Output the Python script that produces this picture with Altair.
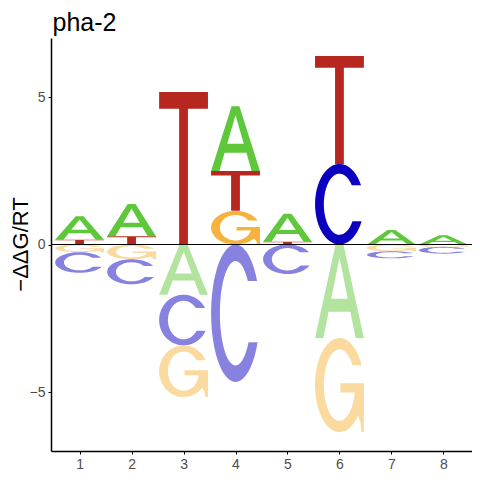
import numpy as np
import pandas as pd
import altair as alt

# ---- data ----
positions = [1, 2, 3, 4, 5, 6, 7, 8]
pos_letters = [["T", "A"], ["T", "A"], ["T"], ["G", "T", "A"], ["T", "A"], ["C", "T"], ["A"], ["A"]]
pos_heights = [[0.16, 0.80], [0.28, 1.09], [5.17], [1.14, 1.35, 2.20], [0.09, 0.95], [2.73, 3.66], [0.49], [0.31]]
neg_letters = [["G", "C"], ["G", "C"], ["A", "C", "G"], ["C"], ["C"], ["A", "G"], ["G", "C"], ["G", "C"]]
neg_heights = [[0.26, 0.70], [0.50, 0.85], [1.70, 1.72, 1.75], [4.66], [1.00], [3.17, 3.19], [0.23, 0.24], [0.08, 0.23]]
y_ticks = [-5, 0, 5]
title_text = "pha-2"
y_title = "\u2212\u0394\u0394G/RT"

# ---- styles ----
pos_colors = {"A": "#5EC83A", "C": "#0C00C0", "G": "#F5B33D", "T": "#B8271F"}
neg_colors = {"A": "#B2E4A0", "C": "#8782E0", "G": "#FADA9F", "T": "#DC948F"}
LETTER_W = 0.94

# ---- glyph templates in a unit box ----
ORX, ORY, IRX, IRY = 0.5, 0.5, 0.32, 0.38


def arc(rx, ry, a0, a1, n=48):
    t = np.radians(np.linspace(a0, a1, n))
    return [(0.5 + rx * np.cos(a), 0.5 + ry * np.sin(a)) for a in t]


def inner_match(a_deg):
    s = np.clip(ORY * np.sin(np.radians(a_deg)) / IRY, -1, 1)
    return np.degrees(np.arcsin(s))


def glyph_C():
    up, lo = 28, -25
    pts = arc(ORX, ORY, up, 360 + lo)
    pts += arc(IRX, IRY, 360 + inner_match(lo), inner_match(up))
    return pts


def glyph_G():
    up = 25
    pts = arc(ORX, ORY, up, 320)
    pts += [(0.93, 0.10), (0.95, 0.0), (1.0, 0.0), (1.0, 0.52), (0.52, 0.52), (0.52, 0.42)]
    pts += arc(IRX, IRY, 348, inner_match(up))
    return pts


def glyph_T():
    return [(0, 1), (1, 1), (1, 0.89), (0.59, 0.89), (0.59, 0), (0.41, 0), (0.41, 0.89), (0, 0.89)]


def glyph_A():
    return [(0, 0), (0.42, 1), (0.58, 1), (1, 0), (0.83, 0), (0.723, 0.28), (0.277, 0.28), (0.17, 0)]


def hole_A():
    return [(0.331, 0.42), (0.669, 0.42), (0.5, 0.86)]


GLYPHS = {"A": glyph_A, "C": glyph_C, "G": glyph_G, "T": glyph_T}

rows, hole_rows = [], []
gid = 0


def add(letter, p, y0, h, color):
    global gid
    gid += 1
    for k, (u, v) in enumerate(GLYPHS[letter]()):
        rows.append({"gid": gid, "k": k, "x": p - LETTER_W / 2 + LETTER_W * u, "y": y0 + h * v, "col": color})
    if letter == "A":
        for k, (u, v) in enumerate(hole_A()):
            hole_rows.append({"gid": gid, "k": k, "x": p - LETTER_W / 2 + LETTER_W * u, "y": y0 + h * v})


for i, p in enumerate(positions):
    base = 0.0
    for L, h in zip(pos_letters[i], pos_heights[i]):
        add(L, p, base, h, pos_colors[L])
        base += h
    base = 0.0
    for L, h in zip(neg_letters[i], neg_heights[i]):
        add(L, p, base - h, h, neg_colors[L])
        base -= h

df = pd.DataFrame(rows)
dh = pd.DataFrame(hole_rows)

xs = alt.Scale(domain=[0.45, 8.55], nice=False, zero=False)
ys = alt.Scale(domain=[-7, 7], nice=False, zero=False)

x_axis = alt.Axis(values=positions, format="d", labelAngle=0, title=None, grid=False,
                  tickSize=3, labelPadding=3)
y_axis = alt.Axis(values=y_ticks, format="d", grid=False, title=None,
                  tickSize=3, labelPadding=3)

letters = alt.Chart(df).mark_line(filled=True, strokeWidth=0).encode(
    x=alt.X("x:Q", scale=xs, axis=x_axis),
    y=alt.Y("y:Q", scale=ys, axis=y_axis),
    detail="gid:N",
    order="k:Q",
    color=alt.Color("col:N", scale=None),
)

holes = alt.Chart(dh).mark_line(filled=True, strokeWidth=0, color="white").encode(
    x=alt.X("x:Q", scale=xs),
    y=alt.Y("y:Q", scale=ys),
    detail="gid:N",
    order="k:Q",
)

zero = alt.Chart(pd.DataFrame({"y": [0]})).mark_rule(color="black", strokeWidth=1).encode(
    y=alt.Y("y:Q", scale=ys)
)

title_mark = alt.Chart(pd.DataFrame({"t": [title_text]})).mark_text(
    align="left", baseline="alphabetic", fontSize=25, font="Liberation Sans", color="black"
).encode(x=alt.value(1.5), y=alt.value(-7.5), text="t:N")

ytitle_mark = alt.Chart(pd.DataFrame({"t": [y_title]})).mark_text(
    align="center", baseline="alphabetic", angle=270, fontSize=22, font="Liberation Sans", color="black"
).encode(x=alt.value(-23), y=alt.value(206.5), text="t:N")

chart = alt.layer(letters, holes, zero, title_mark, ytitle_mark).properties(
    width=421, height=413,
    autosize=alt.AutoSizeParams(type="none"),
    padding={"left": 43, "top": 30, "right": 0, "bottom": 21},
).configure_view(stroke=None).configure_axis(
    domainColor="black", domainWidth=1.5, tickColor="black", tickWidth=1,
    labelColor="#4D4D4D", labelFontSize=14, labelFont="Liberation Sans",
)

chart.save("out.html", embed_options={"renderer": "svg", "actions": False})
